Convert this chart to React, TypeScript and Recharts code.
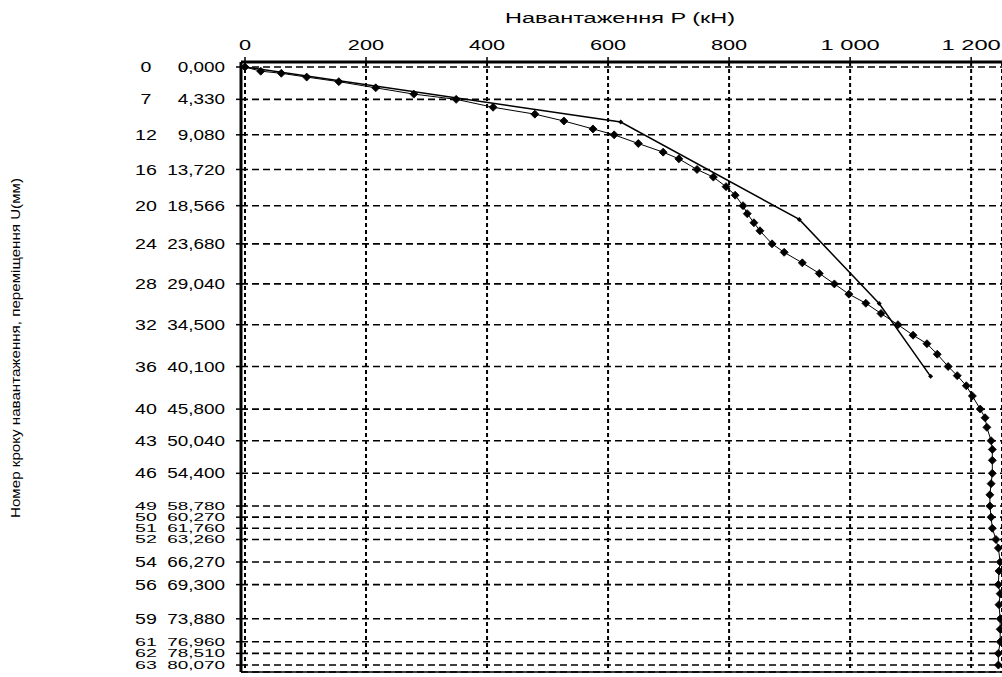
import React from 'react';
import { LineChart, Line, XAxis, YAxis, CartesianGrid, ReferenceLine } from 'recharts';

// Load axis (kN)
const loadTicks = [0, 200, 400, 600, 800, 1000, 1200];
const loadTickLabels = ['0', '200', '400', '600', '800', '1 000', '1 200'];

// Displacement axis (mm) with loading step numbers
const dispTicks = [0, 4.33, 9.08, 13.72, 18.566, 23.68, 29.04, 34.5, 40.1, 45.8, 50.04, 54.4, 58.78, 60.27, 61.76, 63.26, 66.27, 69.3, 73.88, 76.96, 78.51, 80.07];
const stepLabels = ['0', '7', '12', '16', '20', '24', '28', '32', '36', '40', '43', '46', '49', '50', '51', '52', '54', '56', '59', '61', '62', '63'];
const dispLabels = ['0,000', '4,330', '9,080', '13,720', '18,566', '23,680', '29,040', '34,500', '40,100', '45,800', '50,040', '54,400', '58,780', '60,270', '61,760', '63,260', '66,270', '69,300', '73,880', '76,960', '78,510', '80,070'];
const dispMax = 81;

// Experimental curve (steps 0..63)
const expLoad = [0, 26, 60, 102, 155, 216, 279, 349, 410, 479, 527, 575, 610, 650, 691, 717, 747, 774, 795, 810, 823, 830, 841, 851, 871, 891, 921, 949, 974, 998, 1026, 1051, 1079, 1104, 1127, 1144, 1162, 1177, 1192, 1202, 1215, 1223, 1226, 1233, 1235, 1235, 1235, 1233, 1231, 1231, 1233, 1235, 1241, 1245, 1248, 1246, 1245, 1248, 1246, 1248, 1248, 1248, 1245, 1245];
const expDisp = [0, 0.56, 0.84, 1.35, 1.96, 2.79, 3.63, 4.33, 5.39, 6.31, 7.23, 8.29, 9.08, 10.24, 11.4, 12.3, 13.72, 14.74, 16.02, 17.16, 18.566, 19.64, 20.85, 21.93, 23.68, 24.81, 26.22, 27.63, 29.04, 30.41, 31.63, 33.0, 34.5, 35.9, 37.05, 38.45, 40.1, 41.32, 42.68, 44.04, 45.8, 46.96, 48.24, 50.04, 51.2, 52.66, 54.4, 55.78, 57.28, 58.78, 60.27, 61.76, 63.26, 64.41, 66.27, 67.48, 69.3, 70.51, 71.99, 73.88, 75.28, 76.96, 78.51, 80.07];

// Calculated curve
const modelLoad = [0, 621, 916, 1048, 1133];
const modelDisp = [0, 7.36, 20.41, 31.67, 41.42];

const expData = expLoad.map((p, i) => ({ p, u: expDisp[i] }));
const modelData = modelLoad.map((p, i) => ({ p, u: modelDisp[i] }));

const FONT = '"Liberation Sans", Arial, sans-serif';
const charW = (c: string) => (/[0-9]/.test(c) ? 0.556 : c === ' ' ? 0.5 : 0.278);
const stretched = (s: string, fs: number, k: number) =>
  s.split('').reduce((a, c) => a + charW(c), 0) * fs * k;

const XTick = (props: any) => {
  const { x, y, payload } = props;
  const i = loadTicks.indexOf(payload.value);
  const s = i >= 0 ? loadTickLabels[i] : String(payload.value);
  return (
    <text x={x} y={y - 5} textAnchor="middle" fontFamily={FONT} fontSize={15} fill="#000"
      textLength={stretched(s, 15, 1.45)} lengthAdjust="spacingAndGlyphs">{s}</text>
  );
};

const YTick = (props: any) => {
  const { x, y, payload } = props;
  const i = dispTicks.indexOf(payload.value);
  if (i < 0) return null;
  const v = dispLabels[i];
  const st = stepLabels[i];
  const prevGap = i > 0 ? dispTicks[i] - dispTicks[i - 1] : 99;
  const nextGap = i < dispTicks.length - 1 ? dispTicks[i + 1] - dispTicks[i] : 99;
  const dense = Math.min(prevGap, nextGap) < 2;
  const fs = dense ? 11 : 14;
  return (
    <g>
      <text x={x - 88} y={y} dy="0.36em" textAnchor="middle" fontFamily={FONT} fontSize={fs} fill="#000"
        textLength={stretched(st, 14, 1.4)} lengthAdjust="spacingAndGlyphs">{st}</text>
      <text x={x - 9} y={y} dy="0.36em" textAnchor="end" fontFamily={FONT} fontSize={fs} fill="#000"
        textLength={stretched(v, 14, 1.35)} lengthAdjust="spacingAndGlyphs">{v}</text>
    </g>
  );
};

const ExpDot = (props: any) => {
  const { cx, cy, index } = props;
  if (cx == null || cy == null) return <g key={`e${index}`} />;
  const r = 4;
  return (
    <polygon key={`e${index}`} points={`${cx},${cy - r} ${cx + r},${cy} ${cx},${cy + r} ${cx - r},${cy}`} fill="#000" stroke="#000" strokeWidth={0.8} />
  );
};

const ModelDot = (props: any) => {
  const { cx, cy, index } = props;
  if (cx == null || cy == null) return <g key={`m${index}`} />;
  const r = 2.5;
  return (
    <polygon key={`m${index}`} points={`${cx},${cy - r} ${cx + r},${cy} ${cx},${cy + r} ${cx - r},${cy}`} fill="#000" />
  );
};

export default function App() {
  return (
    <div style={{ position: 'absolute', left: 0, top: 0, width: 1002, height: 677, background: '#fff' }}>
      <LineChart width={1002} height={677} margin={{ top: 0, right: 0, bottom: 5, left: 0 }}>
        <CartesianGrid vertical={false} stroke="#000" strokeWidth={1.6} strokeDasharray="7 4" />
        <CartesianGrid horizontal={false} stroke="#000" strokeWidth={2} strokeDasharray="4 3" />
        <XAxis type="number" dataKey="p" orientation="top" domain={[-6.6, 1251]} ticks={loadTicks}
          interval={0} allowDataOverflow height={62} tickSize={5} tick={<XTick />}
          axisLine={{ stroke: '#000', strokeWidth: 3 }} tickLine={{ stroke: '#000', strokeWidth: 1.5 }} />
        <YAxis type="number" dataKey="u" reversed domain={[-0.67, dispMax]} ticks={dispTicks}
          interval={0} allowDataOverflow width={241} tickSize={5} tick={<YTick />}
          axisLine={{ stroke: '#000', strokeWidth: 3 }} tickLine={{ stroke: '#000', strokeWidth: 1.5 }} />
        <ReferenceLine y={dispMax} stroke="#000" strokeWidth={1.5} />
        <Line data={modelData} dataKey="u" type="linear" stroke="#000" strokeWidth={1.5}
          dot={ModelDot} activeDot={false} isAnimationActive={false} />
        <Line data={expData} dataKey="u" type="linear" stroke="#000" strokeWidth={1}
          dot={ExpDot} activeDot={false} isAnimationActive={false} />
      </LineChart>
      <svg width={1002} height={677} style={{ position: 'absolute', left: 0, top: 0, pointerEvents: 'none' }}>
        <text x={620} y={23} textAnchor="middle" fontFamily={FONT} fontSize={14} fill="#000"
          textLength={230} lengthAdjust="spacingAndGlyphs">Навантаження P (кН)</text>
        <text transform="translate(20,348) rotate(-90)" textAnchor="middle" fontFamily={FONT} fontSize={13} fill="#000"
          textLength={340} lengthAdjust="spacingAndGlyphs">Номер кроку навантаження, переміщення U(мм)</text>
      </svg>
    </div>
  );
}
